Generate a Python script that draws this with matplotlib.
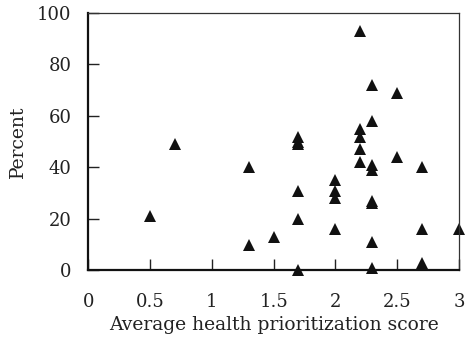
"""Scatter of percent vs average health prioritization score."""

import matplotlib
matplotlib.use("Agg")
import matplotlib.pyplot as plt

# data
score = [0.5, 0.7, 1.3, 1.3, 1.5,
         1.7, 1.7, 1.7, 1.7, 1.7, 1.7,
         2.0, 2.0, 2.0, 2.0,
         2.2, 2.2, 2.2, 2.2, 2.2,
         2.3, 2.3, 2.3, 2.3, 2.3, 2.3, 2.3, 2.3,
         2.5, 2.5,
         2.7, 2.7, 2.7,
         3.0]
percent = [21, 49, 40, 10, 13,
           52, 50, 49, 31, 20, 0,
           35, 31, 28, 16,
           93, 55, 52, 47, 42,
           72, 58, 41, 39, 27, 26, 11, 1,
           69, 44,
           40, 16, 3,
           16]

xticks = [0, 0.5, 1, 1.5, 2, 2.5, 3]
xtick_labels = ["0", "0.5", "1", "1.5", "2", "2.5", "3"]
yticks = [0, 20, 40, 60, 80, 100]

plt.rcParams["font.family"] = ["DejaVu Serif"]

fig = plt.figure(figsize=(4.65, 3.41), dpi=100)
ax = fig.add_axes([0.19, 0.207, 0.797, 0.755])

ax.plot(score, percent, "^", color="#111111", markersize=8,
        markeredgewidth=0, clip_on=False)

ax.set_xlim(0, 3)
ax.set_ylim(0, 100)
ax.set_xticks(xticks)
ax.set_xticklabels(xtick_labels)
ax.set_yticks(yticks)

ax.tick_params(axis="both", direction="in", length=8, width=1,
               labelsize=13, colors="#222222")
ax.tick_params(axis="x", pad=16)
ax.tick_params(axis="y", pad=12)

for side in ("left", "bottom"):
    ax.spines[side].set_linewidth(1.6)
    ax.spines[side].set_color("#111111")
for side in ("top", "right"):
    ax.spines[side].set_linewidth(0.9)
    ax.spines[side].set_color("#333333")

ax.set_xlabel("Average health prioritization score", fontsize=13.5,
              color="#222222", labelpad=4)
ax.set_ylabel("Percent", fontsize=13.5, color="#222222", labelpad=7)

fig.savefig("out.png", dpi=100)
